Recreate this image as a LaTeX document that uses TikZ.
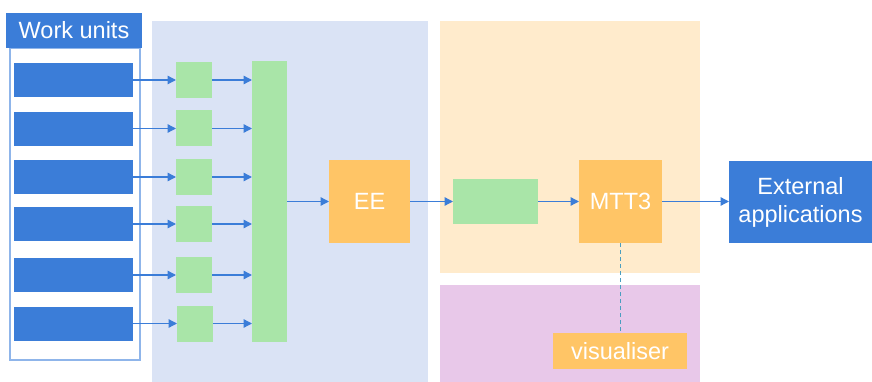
\documentclass[tikz,border=0pt]{standalone}
\usepackage{fontspec}
\setmainfont{Liberation Sans}
\usetikzlibrary{arrows.meta}
\definecolor{wublue}{HTML}{3B7DD8}
\definecolor{regblue}{HTML}{DAE3F5}
\definecolor{regorange}{HTML}{FFEBCC}
\definecolor{regpurple}{HTML}{E8C8E9}
\definecolor{boxgreen}{HTML}{A9E5A8}
\definecolor{boxorange}{HTML}{FFC566}
\definecolor{frameblue}{HTML}{8FB5EA}
\definecolor{dashteal}{HTML}{4A9EC0}
\tikzset{
  blk/.style={inner sep=0pt, outer sep=0pt, draw=none},
  region/.style={blk},
  lbl/.style={text=white, font=\fontsize{23.5}{28}\selectfont, align=center},
  flow/.style={draw=wublue, line width=1.3pt, -{Triangle[length=8.5pt,width=8.5pt]}},
}
\begin{document}
\begin{tikzpicture}[x=1pt,y=-1pt]
\useasboundingbox (0,0) rectangle (872,382);

% background regions
\node[region, fill=regblue, minimum width=276, minimum height=361] (rb) at (290,201.5) {};
\node[region, fill=regorange, minimum width=260, minimum height=252] (ro) at (570,147) {};
\node[region, fill=regpurple, minimum width=260, minimum height=97] (rp) at (570,333.5) {};

% work units frame and header
\node[blk, draw=frameblue, line width=1.5pt, minimum width=130, minimum height=312] (frame) at (75,204) {};
\node[blk, fill=wublue, lbl, minimum width=136, minimum height=35] (hdr) at (74,30.5) {Work units};

% work unit bars
\foreach \i/\y in {1/80,2/129,3/177,4/224,5/275,6/324}{
  \node[blk, fill=wublue, minimum width=119, minimum height=34] (wu\i) at (73.5,\y) {};
}
% small green boxes
\foreach \i/\y/\x in {1/80/194,2/128.5/194,3/177/194,4/224/194,5/275/194,6/323.5/195}{
  \node[blk, fill=boxgreen, minimum width=36, minimum height=36] (sq\i) at (\x,\y) {};
}
% tall green collector
\node[blk, fill=boxgreen, minimum width=35, minimum height=281] (col) at (269.5,201.5) {};

\node[blk, fill=boxorange, lbl, minimum width=81, minimum height=83] (ee) at (369.5,201.5) {EE};
\node[blk, fill=boxgreen, minimum width=85, minimum height=44] (mid) at (495.5,201.5) {};
\node[blk, fill=boxorange, lbl, minimum width=83, minimum height=83] (mtt) at (620.5,201.5) {MTT3};
\node[blk, fill=wublue, lbl, minimum width=143, minimum height=82] (ext) at (800.5,202) {External\\applications};
\node[blk, fill=boxorange, lbl, minimum width=134, minimum height=36] (vis) at (620,351) {visualiser};

% connectors
\foreach \i in {1,...,6}{
  \draw[flow] (wu\i.east |- sq\i.west) -- (sq\i.west);
  \draw[flow] (sq\i.east) -- (sq\i.east -| col.west);
}
\draw[flow] (col.east |- ee.west) -- (ee.west);
\draw[flow] (ee.east) -- (mid.west);
\draw[flow] (mid.east) -- (mtt.west);
\draw[flow] (mtt.east) -- (mtt.east -| ext.west);
\draw[dashteal, line width=1pt, dash pattern=on 4pt off 3pt] (mtt.south -| vis.north) -- (vis.north);
\end{tikzpicture}
\end{document}
